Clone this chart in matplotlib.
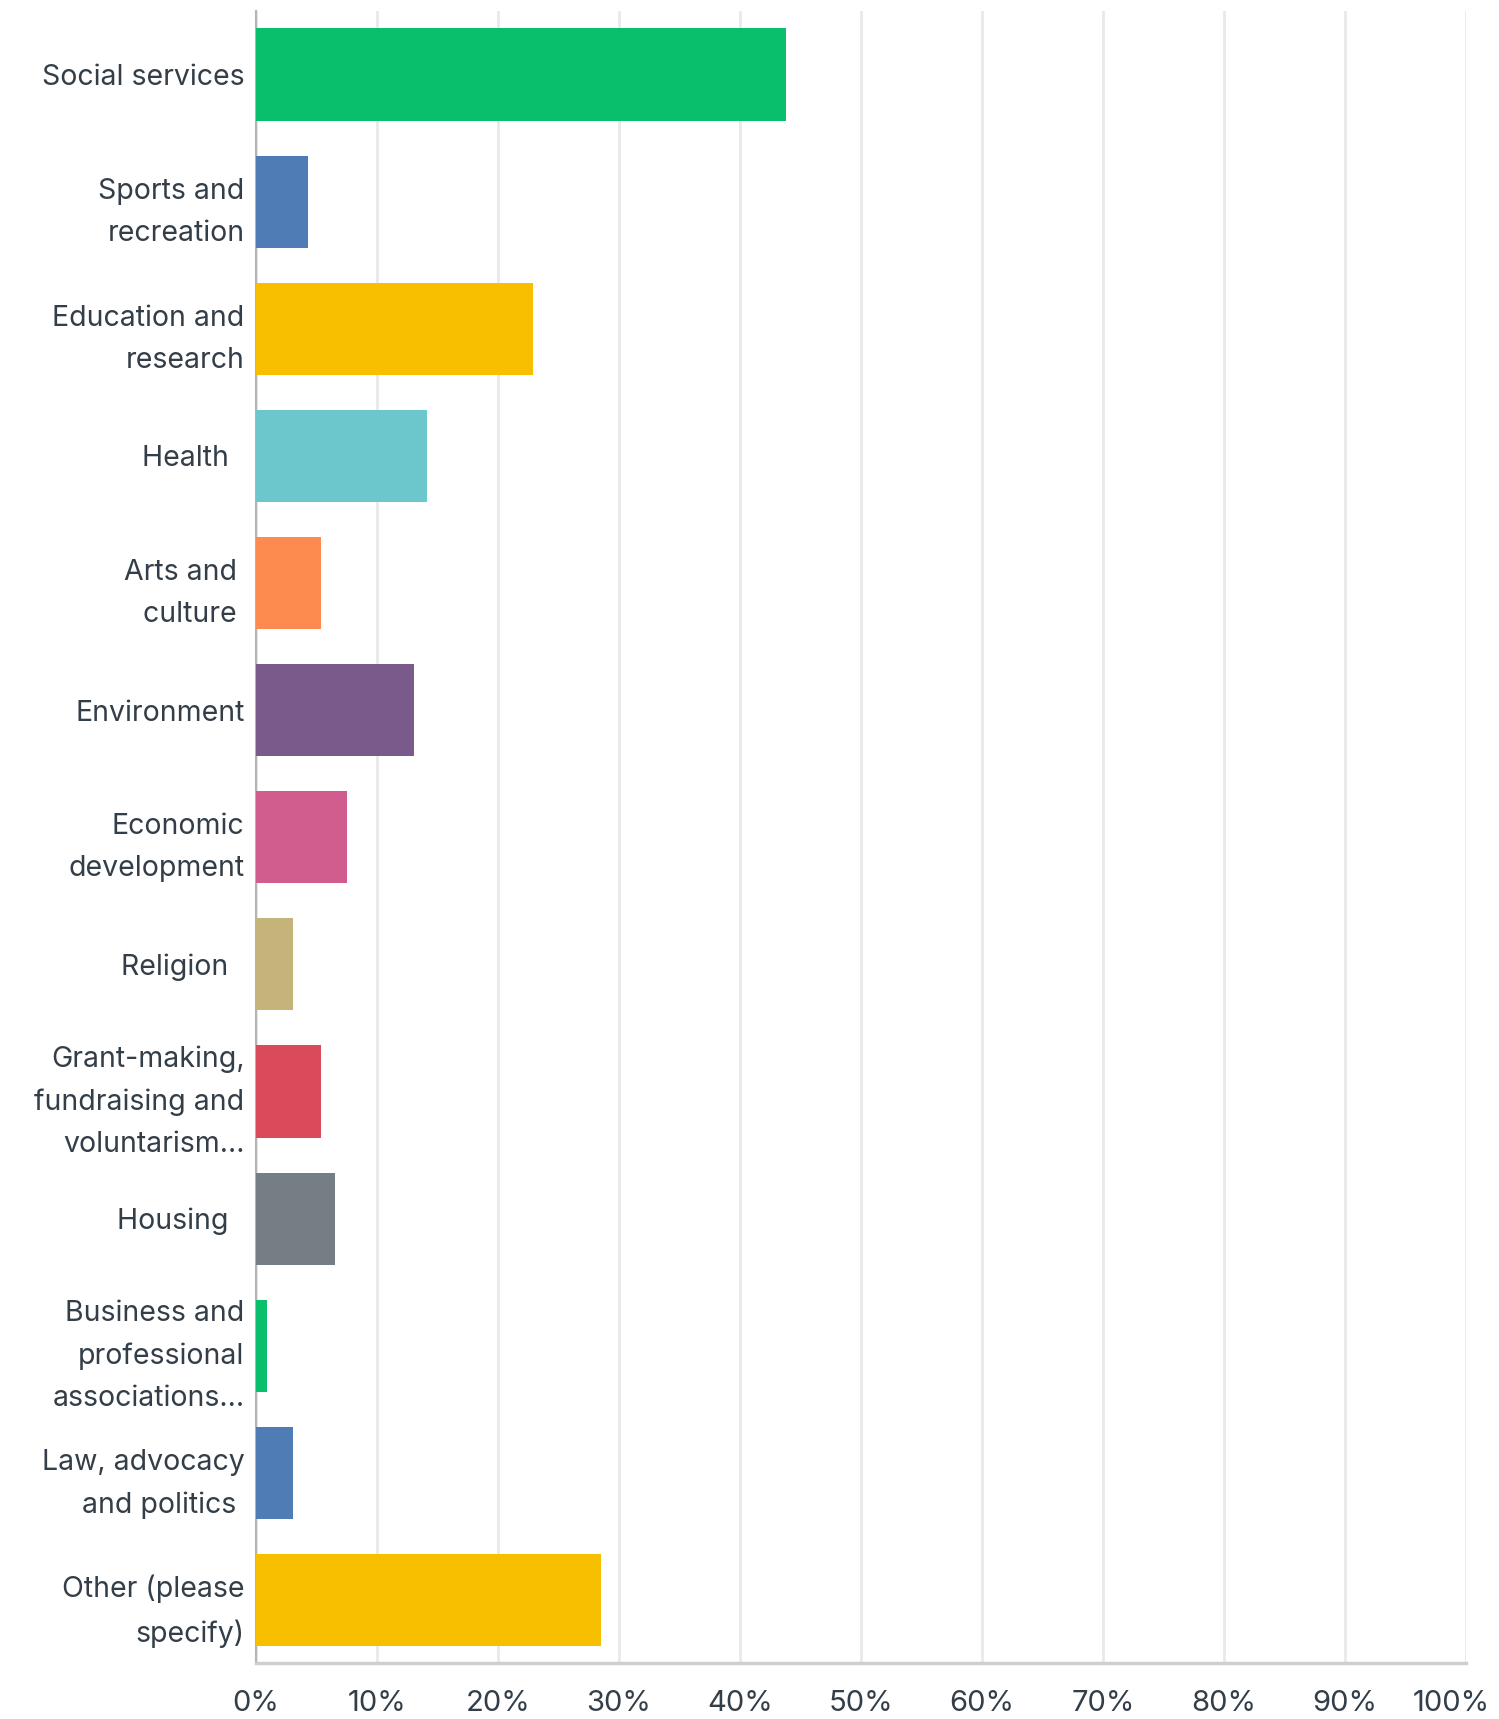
import matplotlib.pyplot as plt
from matplotlib.ticker import FuncFormatter
from matplotlib.transforms import ScaledTranslation

plt.rcParams['font.family'] = ['Inter', 'DejaVu Sans']

# Share of responses per sector (percent)
sectors = [
    "Social services",
    "Sports and\nrecreation",
    "Education and\nresearch",
    "Health  ",
    "Arts and \nculture ",
    "Environment",
    "Economic\ndevelopment",
    "Religion  ",
    "Grant-making,\nfundraising and\nvoluntarism...",
    "Housing  ",
    "Business and\nprofessional\nassociations...",
    "Law, advocacy\nand politics ",
    "Other (please\nspecify)",
]
shares = [43.85, 4.33, 22.9, 14.17, 5.41, 13.09, 7.56, 3.07, 5.41, 6.51, 0.91, 3.07, 28.5]
bar_colors = [
    "#0abf6c", "#507cb6", "#f8be00", "#6bc7cc", "#fd8a4e", "#795a8b",
    "#d15d8f", "#c5b47a", "#da4a5a", "#747e84", "#0abf6c", "#507cb6",
    "#f8be00",
]
ticks = list(range(0, 101, 10))

text_color = "#333e48"

fig = plt.figure(figsize=(14.99, 17.19), dpi=100)
ax = fig.add_axes([0.1706, 0.0323, 0.8074, 0.9613])

pos = list(range(len(sectors)))
ax.barh(pos, shares, height=0.725, color=bar_colors, zorder=3)

ax.set_xlim(0, 100)
ax.set_ylim(len(sectors) - 0.5, -0.5)
ax.set_xticks(ticks)
ax.xaxis.set_major_formatter(FuncFormatter(lambda v, p: f"{v:.0f}%"))
ax.set_yticks(pos)
ax.set_yticklabels(sectors, linespacing=1.72)

ax.grid(axis="x", color="#e9e9e9", linewidth=2, zorder=0)
ax.tick_params(axis="x", length=0, pad=19, labelsize=21, labelcolor=text_color)
ax.tick_params(axis="y", length=0, pad=8, labelsize=20.5, labelcolor=text_color)

for side in ("top", "right"):
    ax.spines[side].set_visible(False)
ax.spines["left"].set_color("#b5b5b5")
ax.spines["left"].set_linewidth(1.5)
ax.spines["bottom"].set_color("#cfcfcf")
ax.spines["bottom"].set_linewidth(2.5)

# nudge the "100%" label inwards so it stays inside the figure
last = ax.get_xticklabels()[-1]
last.set_transform(last.get_transform() + ScaledTranslation(-0.15, 0, fig.dpi_scale_trans))

fig.savefig("out.png", dpi=100, facecolor="white")
